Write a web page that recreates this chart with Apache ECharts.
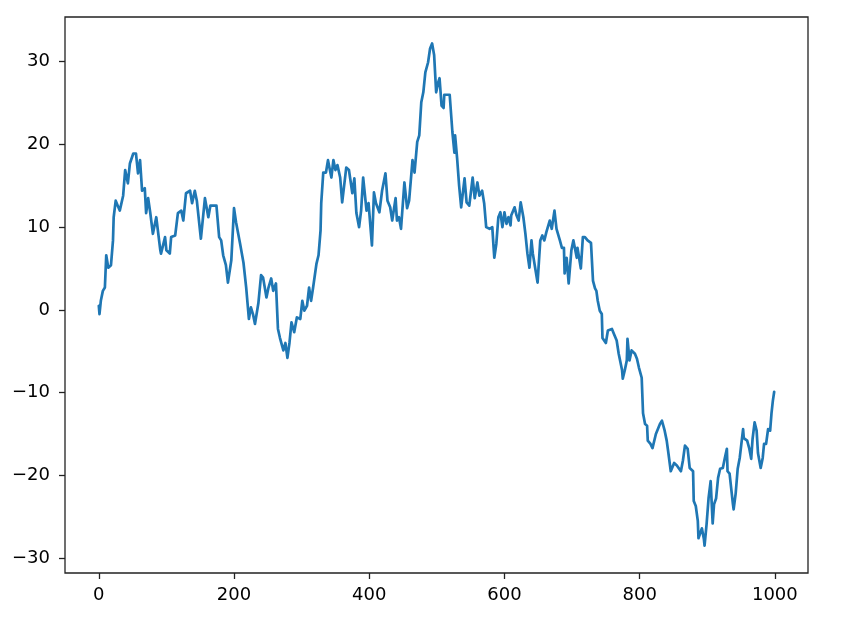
<!DOCTYPE html>
<html>
<head>
<meta charset="utf-8">
<script src="https://cdn.jsdelivr.net/npm/echarts@6/dist/echarts.min.js"></script>
<style>
html,body{margin:0;padding:0;background:#fff;}
#chart{width:843px;height:618px;}
</style>
</head>
<body>
<div id="chart"></div>
<script>
// step index (x) of each read point
const steps = [0,1,3,6,9,11,14,18,21,22,25,28,31,36,39,43,46,51,55,58,61,64,68,70,73,76,80,85,91,92,98,100,105,107,113,117,122,125,
129,135,138,142,145,151,157,162,165,169,174,178,181,184,188,191,196,200,203,209,214,218,222,225,228,231,236,240,243,
248,251,255,258,262,265,268,273,276,279,282,285,289,293,298,301,304,308,311,314,317,322,325,328,329,332,336,339,344,347,350,353,357,360,366,370,
375,378,381,385,388,391,396,399,404,407,410,415,419,424,427,431,434,439,441,444,447,452,456,459,464,467,471,474,
477,480,483,487,490,493,496,499,502,504,507,510,511,516,519,523,526,527,530,533,536,541,544,548,553,556,560,563,567,
570,573,578,582,584,585,588,591,594,597,600,603,606,609,610,615,618,621,624,628,631,634,637,640,642,646,649,653,656,659,662,667,670,674,677,682,685,688,
689,692,695,699,702,707,708,713,716,719,723,728,731,734,736,738,741,
744,745,750,753,759,762,766,769,774,775,778,781,782,785,788,793,796,799,803,805,808,811,812,816,819,824,827,830,833,837,840,842,846,851,855,
861,864,867,871,874,879,880,883,886,887,892,895,896,899,902,905,908,910,913,916,919,923,926,929,930,933,938,939,942,945,948,953,954,959,962,965,967,970,973,975,979,982,984,987,990,993,995,997,999];

// random-walk value at each step
const walk = [0.5,-0.5,1.1,2.3,2.7,6.6,5.1,5.4,8.4,11.2,13.2,12.6,12.0,13.8,16.9,15.3,17.7,18.9,18.9,16.5,18.1,14.4,14.7,11.7,13.5,11.8,9.2,11.2,7.2,6.8,8.8,7.2,6.8,8.8,9.0,11.7,12.0,10.8,
14.1,14.4,12.9,14.4,13.2,8.6,13.5,11.2,12.6,12.6,12.6,8.8,8.4,6.6,5.4,3.3,6.0,12.3,10.6,8.0,5.7,2.7,-1.1,0.3,-0.5,-1.7,0.8,4.2,3.9,
1.5,2.7,3.8,2.3,3.2,-2.3,-3.4,-4.9,-4.0,-5.8,-4.0,-1.5,-2.7,-0.9,-1.1,1.1,-0.1,0.5,2.7,1.1,2.7,5.6,6.6,9.6,12.9,16.6,16.6,18.1,16.0,18.1,16.9,17.5,16.0,13.0,17.2,16.9,
14.1,15.9,11.7,10.0,12.0,16.0,12.0,12.9,7.8,14.2,12.9,11.8,14.4,16.5,13.2,12.4,10.8,13.5,10.8,11.2,9.8,15.4,12.3,13.2,18.1,16.6,20.3,21.1,
25.1,26.3,28.7,29.9,31.6,32.2,30.8,26.3,27.5,28.0,24.7,24.4,26.0,26.0,26.0,21.5,19.0,21.1,18.3,15.0,12.4,15.9,13.0,12.6,16.0,13.5,15.4,13.8,14.4,
12.9,10.0,9.8,10.0,7.5,6.3,8.0,11.2,11.8,10.0,11.8,10.4,11.2,10.2,11.4,12.4,11.4,10.8,13.0,11.2,9.2,6.8,5.1,8.4,6.8,4.8,3.3,8.4,9.0,8.4,9.4,10.8,9.8,12.0,9.8,8.4,7.5,7.5,
4.4,6.3,3.2,7.2,8.4,6.3,7.5,5.0,8.8,8.8,8.4,8.1,3.5,2.6,2.3,1.1,-0.1,
-0.5,-3.4,-4.0,-2.5,-2.3,-2.9,-3.7,-5.3,-7.3,-8.3,-7.3,-6.1,-3.5,-6.1,-4.9,-5.3,-5.9,-7.0,-8.2,-12.5,-13.8,-14.0,-15.8,-16.2,-16.7,-15.0,-14.4,-13.8,-13.4,-14.6,-15.8,-17.0,-19.5,-18.5,-18.8,
-19.5,-18.2,-16.4,-16.8,-19.1,-19.5,-23.1,-23.7,-25.5,-27.6,-26.4,-27.7,-28.5,-25.9,-22.7,-20.7,-25.8,-23.5,-22.8,-20.3,-19.2,-19.1,-17.9,-16.8,-19.5,-19.8,-23.5,-24.1,-22.2,-19.2,-17.9,-14.4,-15.5,-15.8,-16.7,-18.0,-15.6,-13.6,-14.6,-17.3,-19.1,-17.9,-16.2,-16.2,-14.4,-14.6,-12.5,-11.0,-9.9];

const xTicks = [0, 200, 400, 600, 800, 1000];
const yTicks = [-30, -20, -10, 0, 10, 20, 30];

const chart = echarts.init(document.getElementById('chart'), null, {renderer: 'canvas'});
const fmt = v => String(v).replace('-', '\u2212');
const labelStyle = {color: '#000', fontSize: 18, fontFamily: 'DejaVu Sans'};

chart.setOption({
  animation: false,
  backgroundColor: '#fff',
  grid: {left: 65, right: 35, top: 17, bottom: 45, show: true, borderColor: '#222', borderWidth: 1.3, backgroundColor: '#fff'},
  xAxis: {
    type: 'value', min: -50, max: 1049,
    axisLine: {show: false, onZero: false},
    axisTick: {show: true, inside: false, length: 6, lineStyle: {color: '#222', width: 1.3}, customValues: xTicks},
    axisLabel: Object.assign({margin: 13, customValues: xTicks, formatter: fmt}, labelStyle),
    splitLine: {show: false}
  },
  yAxis: {
    type: 'value', min: -31.8, max: 35.4,
    axisLine: {show: false, onZero: false},
    axisTick: {show: true, inside: false, length: 6, lineStyle: {color: '#222', width: 1.3}, customValues: yTicks},
    axisLabel: Object.assign({margin: 15, customValues: yTicks, formatter: fmt}, labelStyle),
    splitLine: {show: false}
  },
  series: [{
    type: 'line',
    data: steps.map((s, i) => [s, walk[i]]),
    showSymbol: false,
    lineStyle: {color: '#1f77b4', width: 2.7, join: 'round', cap: 'round'}
  }]
});
</script>
</body>
</html>
